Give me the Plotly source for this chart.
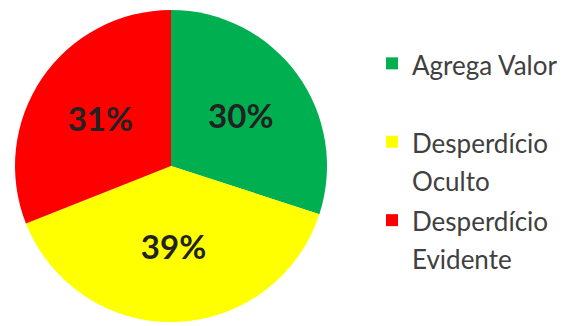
import plotly.graph_objects as go

labels = ["Agrega Valor", "Desperdício<br>Oculto", "Desperdício<br>Evidente"]
values = [30, 39, 31]
colors = ["#00B050", "#FFFF00", "#FF0000"]

# legend entries: larger legend line height, glyphs at 26px
legend_names = ['<span style="font-size:26px">Agrega Valor</span><br> ',
                '<span style="font-size:26px">Desperdício</span><br><span style="font-size:26px">Oculto</span>',
                '<span style="font-size:26px">Desperdício</span><br><span style="font-size:26px">Evidente</span>']

fig = go.Figure(
    go.Pie(
        labels=legend_names,
        values=values,
        sort=False,
        direction="clockwise",
        rotation=0,
        marker=dict(colors=colors, line=dict(width=0)),
        texttemplate="%{percent:.0%}",
        textposition="inside",
        insidetextorientation="horizontal",
        textfont=dict(family="Lato", size=33, color="#222222", weight="bold"),
        domain=dict(x=[15 / 566, 327 / 566], y=[4 / 326, 316 / 326]),
        hovertext=labels,
        hoverinfo="text+percent",
    )
)

fig.update_layout(
    width=566,
    height=326,
    margin=dict(l=0, r=0, t=0, b=0),
    paper_bgcolor="white",
    plot_bgcolor="white",
    showlegend=True,
    legend=dict(
        x=372 / 566,
        y=1 - 38 / 326,
        xanchor="left",
        yanchor="top",
        valign="top",
        font=dict(family="Lato", size=29, color="#404040"),
        bgcolor="rgba(0,0,0,0)",
        traceorder="normal",
    ),
)

fig.write_html(
    "out.html",
    config={"displayModeBar": False},
    post_script="document.body.style.margin='0';",
)
